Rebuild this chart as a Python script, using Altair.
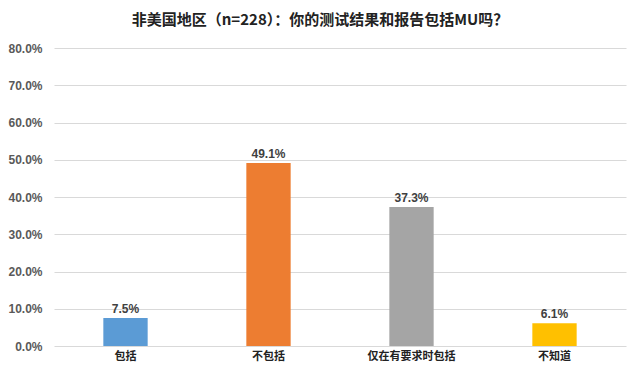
import altair as alt
import pandas as pd

categories = ["包括", "不包括", "仅在有要求时包括", "不知道"]
values = [7.5, 49.1, 37.3, 6.1]
colors = ["#5B9BD5", "#ED7D31", "#A5A5A5", "#FFC000"]
y_ticks = [0, 0.1, 0.2, 0.3, 0.4, 0.5, 0.6, 0.7, 0.8]

df = pd.DataFrame({"cat": categories, "val": [v / 100 for v in values],
                   "label": [f"{v:.1f}%" for v in values]})

x = alt.X("cat:N", sort=categories, title=None,
          scale=alt.Scale(paddingInner=0.69, paddingOuter=0.345),
          axis=alt.Axis(labelAngle=0, labelFont="Noto Sans CJK SC", labelFontWeight="bold",
                        labelFontSize=11, labelColor="#222222", ticks=False, domain=False,
                        labelPadding=4))
y = alt.Y("val:Q", title=None,
          scale=alt.Scale(domain=[0, 0.8]),
          axis=alt.Axis(format=".1%", values=y_ticks, labelOverlap=False,
                        ticks=False, domain=False, labelFont="Liberation Sans",
                        labelFontWeight="bold", labelFontSize=12, labelColor="#595959",
                        gridColor="#D9D9D9", labelPadding=12))

base = alt.Chart(df).encode(x=x, y=y)

bars = base.mark_bar().encode(
    color=alt.Color("cat:N", sort=categories,
                    scale=alt.Scale(domain=categories, range=colors), legend=None),
)

text = base.mark_text(dy=-9, font="Liberation Sans", fontWeight="bold",
                      fontSize=12, color="#404040").encode(text="label:N")

chart = (bars + text).properties(
    width=572, height=298,
    padding={"left": 46, "top": 40, "right": 6, "bottom": 22},
    autosize=alt.AutoSizeParams(type="none"),
    title=alt.TitleParams("非美国地区（n=228）：你的测试结果和报告包括MU吗？",
                          font="Noto Sans CJK SC", fontSize=15, fontWeight="bold",
                          color="#222222", offset=14, dx=-20),
).configure_view(stroke=None)

chart.save("out.html", embed_options={"renderer": "svg", "actions": False})
